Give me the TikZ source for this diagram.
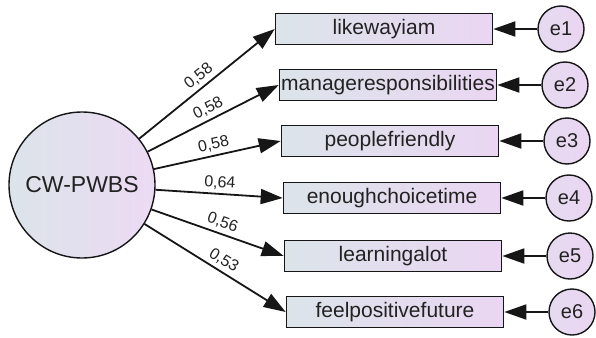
\documentclass[tikz,border=0pt]{standalone}
\usepackage{fontspec}
\setmainfont{Liberation Sans}
\usepackage{tikz}
\usetikzlibrary{arrows.meta,positioning}
\definecolor{boxleft}{HTML}{DCE4EA}
\definecolor{boxright}{HTML}{EAD6F2}
\definecolor{lineblack}{HTML}{161616}
\definecolor{txtgray}{HTML}{222222}

\begin{document}
\begin{tikzpicture}[
  x=1pt,y=-1pt,
  node distance=0pt and 44pt,
  latent/.style={circle,minimum size=146pt,inner sep=0pt,draw=lineblack,
    line width=1.4pt,left color=boxleft,right color=boxright!90!white,
    text=txtgray,font=\fontsize{23}{26}\selectfont},
  obs/.style={rectangle,minimum width=217pt,minimum height=31pt,inner sep=0pt,
    draw=lineblack,line width=1.6pt,left color=boxleft,right color=boxright,
    text=txtgray,font=\fontsize{21}{24}\selectfont},
  err/.style={circle,minimum size=46pt,inner sep=0pt,draw=lineblack,
    line width=1.4pt,left color=boxright!70!boxleft,right color=boxright,
    text=txtgray,font=\fontsize{20}{24}\selectfont},
  load/.style={-{Triangle[length=22pt,width=15pt]},line width=1.8pt,color=lineblack},
  coef/.style={font=\fontsize{16}{18}\selectfont,text=txtgray,sloped,above,inner sep=3.5pt}
]
  \useasboundingbox (0,0) rectangle (596,337);

  \node[latent] (cw) at (82,185) {CW-PWBS};

  % indicators
  \node[obs] (like) at (384,29) {likewayiam};
  \node[obs] (manage) at (388,85) {manageresponsibilities};
  \node[obs] (people) at (390,141) {peoplefriendly};
  \node[obs] (choice) at (392,198) {enoughchoicetime};
  \node[obs] (learn) at (393,256) {learningalot};
  \node[obs] (future) at (395,312) {feelpositivefuture};

  % error terms
  \node[err,right=of like] (e1) {e1};
  \node[err,right=of manage] (e2) {e2};
  \node[err,right=of people] (e3) {e3};
  \node[err,right=of choice] (e4) {e4};
  \node[err,right=of learn] (e5) {e5};
  \node[err,right=of future] (e6) {e6};

  \draw[load] (cw) -- (like.west) node[coef,pos=0.49] {0,58};
  \draw[load] (cw) -- (manage.west) node[coef,pos=0.5] {0,58};
  \draw[load] (cw) -- (people.west) node[coef,pos=0.49] {0,58};
  \draw[load] (cw) -- (choice.west) node[coef,pos=0.5] {0,64};
  \draw[load] (cw) -- (learn.west) node[coef,pos=0.51] {0,56};
  \draw[load] (cw) -- (future.west) node[coef,pos=0.52] {0,53};

  \draw[load] (e1) -- (like.east);
  \draw[load] (e2) -- (manage.east);
  \draw[load] (e3) -- (people.east);
  \draw[load] (e4) -- (choice.east);
  \draw[load] (e5) -- (learn.east);
  \draw[load] (e6) -- (future.east);
\end{tikzpicture}
\end{document}
